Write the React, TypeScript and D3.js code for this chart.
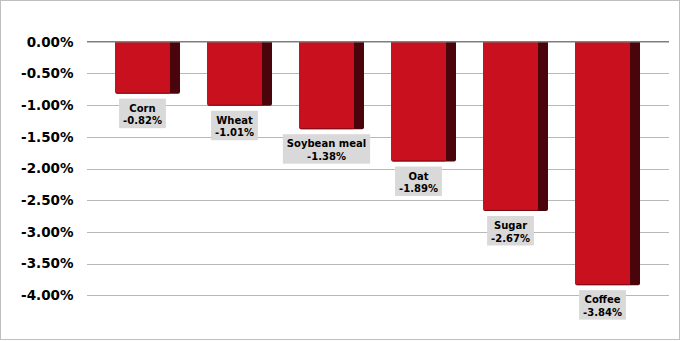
import React, { useEffect, useRef } from "react";
import * as d3 from "d3";

const categories = ["Corn", "Wheat", "Soybean meal", "Oat", "Sugar", "Coffee"];
const values = [-0.82, -1.01, -1.38, -1.89, -2.67, -3.84];
const yTicks = [0, -0.5, -1, -1.5, -2, -2.5, -3, -3.5, -4];

const W = 681;
const H = 341;

export default function App() {
  const ref = useRef<SVGSVGElement | null>(null);

  useEffect(() => {
    const svg = d3.select(ref.current);
    svg.selectAll("*").remove();

    const locale = d3.formatLocale({
      decimal: ".",
      thousands: ",",
      grouping: [3],
      currency: ["$", ""],
      minus: "-",
    });
    const fmt = locale.format(".2%");

    const y = d3.scaleLinear().domain([0, -4]).range([41.7, 295.3]);
    const x = d3
      .scaleBand<string>()
      .domain(categories)
      .range([101.5, 653.5])
      .paddingInner(0.2935)
      .paddingOuter(0.1467);
    const gridX0 = 87;
    const gridX1 = 669;
    const sideW = 10;

    svg
      .append("rect")
      .attr("x", 0.5)
      .attr("y", 0.5)
      .attr("width", W - 2)
      .attr("height", H - 2)
      .attr("fill", "#ffffff")
      .attr("stroke", "#bfbfbf")
      .attr("stroke-width", 1);

    // gridlines
    svg
      .append("g")
      .selectAll("line")
      .data(yTicks.filter((t) => t !== 0))
      .join("line")
      .attr("x1", gridX0)
      .attr("x2", gridX1)
      .attr("y1", (d) => Math.round(y(d)) + 0.5)
      .attr("y2", (d) => Math.round(y(d)) + 0.5)
      .attr("stroke", "#b8b8b8")
      .attr("stroke-width", 1.2);

    // y labels
    svg
      .append("g")
      .selectAll("text")
      .data(yTicks)
      .join("text")
      .attr("x", 73.5)
      .attr("y", (d) => y(d))
      .attr("dy", "0.36em")
      .attr("text-anchor", "end")
      .attr("font-family", "DejaVu Sans")
      .attr("font-weight", "bold")
      .attr("font-size", 13.5)
      .attr("fill", "#000")
      .text((d) => fmt(d / 100));

    // bars
    const bars = svg
      .append("g")
      .selectAll("g")
      .data(categories.map((c, i) => ({ c, v: values[i] })))
      .join("g");

    bars
      .append("path")
      .attr("d", (d) => {
        const x0 = x(d.c)! + x.bandwidth() - sideW - 2;
        const x1 = x(d.c)! + x.bandwidth();
        const y0 = y(0);
        const y1 = y(d.v);
        const r = 2;
        return `M${x0},${y0}H${x1}V${y1 - r}Q${x1},${y1} ${x1 - r},${y1}H${x0}Z`;
      })
      .attr("fill", "#4a040c");

    bars
      .append("path")
      .attr("d", (d) => {
        const x0 = x(d.c)!;
        const x1 = x(d.c)! + x.bandwidth() - sideW;
        const y0 = y(0);
        const y1 = y(d.v);
        const r = 2;
        return `M${x0},${y0}H${x1}V${y1 - r}Q${x1},${y1} ${x1 - r},${y1}H${x0 + r}Q${x0},${y1} ${x0},${y1 - r}Z`;
      })
      .attr("fill", "#c8101e");

    bars
      .append("line")
      .attr("x1", (d) => x(d.c)! + 1.5)
      .attr("x2", (d) => x(d.c)! + x.bandwidth() - sideW - 1.5)
      .attr("y1", (d) => y(d.v) - 0.5)
      .attr("y2", (d) => y(d.v) - 0.5)
      .attr("stroke", "#7a0a12")
      .attr("stroke-width", 1);

    // zero line
    svg
      .append("line")
      .attr("x1", gridX0)
      .attr("x2", gridX1)
      .attr("y1", y(0))
      .attr("y2", y(0))
      .attr("stroke", "#7f7f7f")
      .attr("stroke-width", 1.5);

    // data labels
    const labels = svg
      .append("g")
      .selectAll("g")
      .data(categories.map((c, i) => ({ c, v: values[i] })))
      .join("g")
      .attr(
        "transform",
        (d) =>
          `translate(${x(d.c)! + (x.bandwidth() - sideW) / 2},${y(d.v) + 5})`
      );

    const rects = labels.append("rect").attr("fill", "#d9d9d9");

    const t1 = labels
      .append("text")
      .attr("x", 0)
      .attr("y", 9.7)
      .attr("dy", "0.36em")
      .attr("text-anchor", "middle")
      .attr("font-family", "DejaVu Sans")
      .attr("font-weight", "bold")
      .attr("font-size", 10)
      .attr("fill", "#000")
      .text((d) => d.c);
    const t2 = labels
      .append("text")
      .attr("x", 0)
      .attr("y", 22)
      .attr("dy", "0.36em")
      .attr("text-anchor", "middle")
      .attr("font-family", "DejaVu Sans")
      .attr("font-weight", "bold")
      .attr("font-size", 10)
      .attr("fill", "#000")
      .text((d) => fmt(d.v / 100));

    const n1 = t1.nodes() as SVGTextElement[];
    const n2 = t2.nodes() as SVGTextElement[];
    rects.each(function (_d, i) {
      const w =
        Math.max(n1[i].getComputedTextLength(), n2[i].getComputedTextLength()) + 8;
      d3.select(this)
        .attr("x", -w / 2)
        .attr("y", 0)
        .attr("width", w)
        .attr("height", 29.5);
    });
  }, []);

  return (
    <svg
      ref={ref}
      width={W}
      height={H}
      style={{ position: "absolute", left: 0, top: 0, display: "block" }}
    />
  );
}
